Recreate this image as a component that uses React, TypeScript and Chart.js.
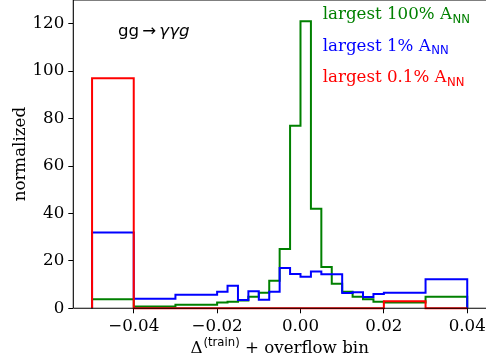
import React, { useEffect, useRef } from "react";
import { Chart, registerables } from "chart.js";

Chart.register(...registerables);

// Bin edges: overflow bin [-0.05,-0.04], two coarse bins, 16 fine bins, two coarse bins
const binEdges = [
  -0.05, -0.04, -0.03, -0.02, -0.0175, -0.015, -0.0125, -0.01, -0.0075, -0.005,
  -0.0025, 0, 0.0025, 0.005, 0.0075, 0.01, 0.0125, 0.015, 0.0175, 0.02, 0.03, 0.04,
];

const green100 = [
  3.8, 0.8, 1.5, 2.4, 2.8, 3.3, 4.9, 6.6, 11.6, 25, 77, 121, 42, 17.4, 10.3, 7,
  4.9, 3.8, 2.8, 2.4, 4.9,
];
const blue1 = [
  32, 4, 5.7, 7.0, 9.5, 3.5, 7.2, 3.6, 7.0, 17.0, 14.5, 13.3, 15.5, 14.4, 14.4,
  6.4, 6.8, 4.8, 6.0, 6.6, 12.2,
];
const red01 = [
  97, 0, 0, 0, 0, 0, 0, 0, 0, 0, 0, 0, 0, 0, 0, 0, 0, 0, 0, 3, 0,
];

const xTickValues = [-0.04, -0.02, 0, 0.02, 0.04];
const xTickLabels = ["\u22120.04", "\u22120.02", "0.00", "0.02", "0.04"];
const yTickValues = [0, 20, 40, 60, 80, 100, 120];
const yTickLabels = ["0", "20", "40", "60", "80", "100", "120"];

const legendMain = ["largest 100% A", "largest 1% A", "largest 0.1% A"];
const legendSub = "NN";
const seriesColors = ["#008000", "#0000ff", "#ff0000"];

const X_MIN = -0.0545;
const X_MAX = 0.0445;
const Y_MIN = 0;
const Y_MAX = 130;

const SERIF = '"DejaVu Serif", serif';
const SANS = '"DejaVu Sans", sans-serif';
const FS = 16.67;

function stepPoints(values: number[]) {
  const pts: { x: number; y: number }[] = [{ x: binEdges[0], y: 0 }];
  values.forEach((v, i) => pts.push({ x: binEdges[i], y: v }));
  pts.push({ x: binEdges[values.length], y: 0 });
  return pts;
}

const decorPlugin = {
  id: "decor",
  afterDatasetsDraw(chart: any) {
    const ctx = chart.ctx as CanvasRenderingContext2D;
    const { left, top, right, bottom } = chart.chartArea;
    ctx.save();
    ctx.strokeStyle = "#000";
    ctx.lineWidth = 1.1;
    ctx.beginPath();
    ctx.moveTo(left, bottom);
    ctx.lineTo(right, bottom);
    ctx.moveTo(left, bottom);
    ctx.lineTo(left, top);
    ctx.lineTo(right, top);
    ctx.stroke();
    ctx.restore();
  },
  afterDraw(chart: any) {
    const ctx = chart.ctx as CanvasRenderingContext2D;
    const { left, top, right, bottom } = chart.chartArea;
    ctx.save();
    ctx.textAlign = "left";
    ctx.textBaseline = "alphabetic";

    // process label
    ctx.fillStyle = "#000";
    ctx.font = `${FS}px ${SANS}`;
    ctx.fillText("gg", left + 44.7, top + 36);
    ctx.fillText("\u2192", left + 69, top + 36);
    ctx.font = `italic ${FS}px ${SANS}`;
    ctx.fillText("\u03b3\u03b3g", left + 86, top + 36);

    // legend texts
    const lx = left + 249.4;
    legendMain.forEach((t, i) => {
      const by = top + 19 + i * 31.5;
      ctx.fillStyle = seriesColors[i];
      ctx.font = `${FS}px ${SERIF}`;
      ctx.fillText(t, lx, by);
      const w = ctx.measureText(t).width;
      ctx.font = `${FS * 0.7}px ${SANS}`;
      ctx.fillText(legendSub, lx + w + 0.5, by + 3.8);
    });

    // x-axis title: Δ^(train) + overflow bin
    ctx.fillStyle = "#000";
    const partA = "\u0394";
    const partB = "(train)";
    const partC = " + overflow bin";
    ctx.font = `${FS}px ${SERIF}`;
    const wA = ctx.measureText(partA).width;
    const wC = ctx.measureText(partC).width;
    ctx.font = `${FS * 0.7}px ${SANS}`;
    const wB = ctx.measureText(partB).width;
    const total = wA + wB + 1 + wC;
    const cx = (left + right) / 2;
    let x0 = cx - total / 2;
    const by = 352.5;
    ctx.font = `${FS}px ${SERIF}`;
    ctx.fillText(partA, x0, by);
    ctx.font = `${FS * 0.7}px ${SANS}`;
    ctx.fillText(partB, x0 + wA + 1, by - 7);
    ctx.font = `${FS}px ${SERIF}`;
    ctx.fillText(partC, x0 + wA + 1 + wB, by);

    // y-axis title
    ctx.translate(24.5, (top + bottom) / 2);
    ctx.rotate(-Math.PI / 2);
    ctx.textAlign = "center";
    ctx.font = `${FS}px ${SERIF}`;
    ctx.fillText("normalized", 0, 0);
    ctx.restore();
  },
};

export default function App() {
  const canvasRef = useRef<HTMLCanvasElement | null>(null);

  useEffect(() => {
    document.body.style.margin = "0";
    document.body.style.overflow = "hidden";
    const canvas = canvasRef.current;
    if (!canvas) return;
    const mk = (values: number[], color: string) => ({
      data: stepPoints(values),
      borderColor: color,
      borderWidth: 2,
      pointRadius: 0,
      fill: false,
      stepped: true as const,
      tension: 0,
      clip: false as const,
    });
    const chart = new Chart(canvas, {
      type: "line",
      data: {
        datasets: [
          mk(red01, seriesColors[2]),
          mk(blue1, seriesColors[1]),
          mk(green100, seriesColors[0]),
        ],
      },
      options: {
        animation: false,
        responsive: false,
        devicePixelRatio: 1,
        events: [],
        layout: { padding: { left: 0, right: -2, top: 0, bottom: 0 } },
        plugins: {
          legend: { display: false },
          tooltip: { enabled: false },
          title: { display: false },
        },
        scales: {
          x: {
            type: "linear",
            min: X_MIN,
            max: X_MAX,
            border: { display: false },
            grid: {
              display: true,
              drawOnChartArea: false,
              drawTicks: true,
              tickLength: 5,
              tickColor: "#000",
              tickWidth: 1,
            },
            afterBuildTicks: (scale: any) => {
              scale.ticks = xTickValues.map((v) => ({ value: v }));
            },
            afterFit: (scale: any) => {
              scale.height = 362 - 308.3;
              scale.paddingLeft = 0;
              scale.paddingRight = 0;
            },
            ticks: {
              autoSkip: false,
              maxRotation: 0,
              padding: 3,
              color: "#000",
              font: { family: SERIF, size: FS },
              callback: (_v: any, i: number) => xTickLabels[i],
            },
          },
          y: {
            type: "linear",
            min: Y_MIN,
            max: Y_MAX,
            border: { display: false },
            grid: {
              display: true,
              drawOnChartArea: false,
              drawTicks: true,
              tickLength: 5,
              tickColor: "#000",
              tickWidth: 1,
            },
            afterBuildTicks: (scale: any) => {
              scale.ticks = yTickValues.map((v) => ({ value: v }));
            },
            afterFit: (scale: any) => {
              scale.width = 73.3;
              scale.paddingTop = 0;
              scale.paddingBottom = 0;
            },
            ticks: {
              autoSkip: false,
              padding: 4,
              color: "#000",
              font: { family: SERIF, size: FS },
              callback: (_v: any, i: number) => yTickLabels[i],
            },
          },
        },
      },
      plugins: [decorPlugin],
    });
    return () => chart.destroy();
  }, []);

  return (
    <div style={{ position: "fixed", left: 0, top: 0, width: 486, height: 362, background: "#fff" }}>
      <canvas ref={canvasRef} width={486} height={362} style={{ display: "block" }} />
    </div>
  );
}
